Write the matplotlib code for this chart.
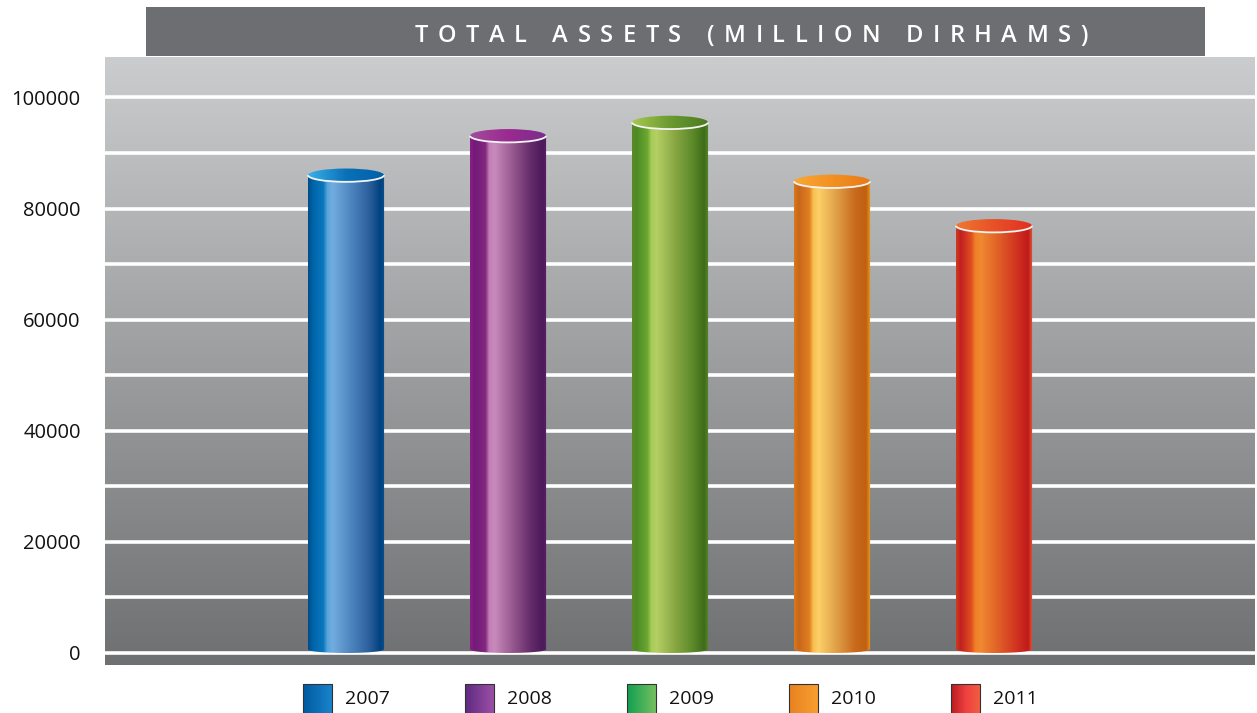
import numpy as np
import matplotlib
matplotlib.use('Agg')
import matplotlib.pyplot as plt
from matplotlib.colors import LinearSegmentedColormap
from matplotlib.patches import Rectangle, Ellipse, Arc, PathPatch
from matplotlib.path import Path

plt.rcParams['font.family'] = ['Open Sans', 'DejaVu Sans']

# Data
years = ['2007', '2008', '2009', '2010', '2011']
total_assets = [86000, 93100, 95500, 84900, 76900]
y_ticks = [0, 20000, 40000, 60000, 80000, 100000]
title = 'TOTAL ASSETS (MILLION DIRHAMS)'

# Cylinder shading, left to right (body, top face, legend swatch)
body_stops = {
    '2007': ['#004a8a', '#0064a8', '#0a78bf', '#5aa4dc', '#72acde', '#4f86c0', '#2b5f9c', '#00427f', '#0a5090'],
    '2008': ['#8a1f85', '#741a78', '#82287f', '#c27fb6', '#c88abc', '#97598f', '#632a6a', '#4c1a5a', '#5a2066'],
    '2009': ['#5a8a2a', '#4f8a24', '#6aa832', '#a8cc58', '#b4d064', '#8aa844', '#5a8828', '#3e6b1a', '#5a8a2a'],
    '2010': ['#d87a1a', '#c8661a', '#e08020', '#f8c050', '#fcd068', '#e0a048', '#c86a1c', '#c06010', '#f0a020'],
    '2011': ['#d03a20', '#c02020', '#e05020', '#f08028', '#f08a30', '#e06028', '#d03020', '#c01a1a', '#e06040'],
}
stop_pos = [0.0, 0.06, 0.2, 0.25, 0.32, 0.55, 0.8, 0.94, 1.0]
top_stops = {
    '2007': ['#3ab0e8', '#0a70b8', '#0060a8'],
    '2008': ['#a24c9c', '#9a2a90', '#7a2e8c'],
    '2009': ['#a8c850', '#6a9a30', '#4a7a20'],
    '2010': ['#f8a838', '#f39020', '#e87a1a'],
    '2011': ['#f07830', '#e85028', '#e03020'],
}
swatch_stops = {
    '2007': ['#005aa0', '#1a85cc'],
    '2008': ['#5e2a80', '#9e50a8'],
    '2009': ['#10a050', '#7ac060'],
    '2010': ['#e88220', '#f8a030'],
    '2011': ['#b81a20', '#f04040', '#f06040'],
}

W, H = 1257, 713
fig = plt.figure(figsize=(W / 100, H / 100), dpi=100)

ax = fig.add_axes([105 / W, 48 / H, 1150 / W, 608 / H])
lax = fig.add_axes([105 / W, 0, 1150 / W, 48 / H])

# background gradient
bg = LinearSegmentedColormap.from_list('bg', ['#6f7072', '#cbcccd'])
ax.imshow(np.linspace(1, 0, 256).reshape(-1, 1), cmap=bg, extent=[0, 1, 0, 1],
          transform=ax.transAxes, aspect='auto', zorder=0)

x = np.arange(len(years))
bar_w = 0.47
ell_h = 2400      # top face height (data units)
base_h = 1300     # bottom curvature
bars = ax.bar(x, total_assets, width=bar_w, color='none', zorder=3)
grad = np.linspace(0, 1, 256).reshape(1, -1)

for bar, yr in zip(bars, years):
    x0 = bar.get_x()
    w = bar.get_width()
    h = bar.get_height()
    xc = x0 + w / 2
    cmap_body = LinearSegmentedColormap.from_list(yr + 'b', list(zip(stop_pos, body_stops[yr])))
    cmap_top = LinearSegmentedColormap.from_list(yr + 't', top_stops[yr])

    # body outline: straight sides, rounded bottom sitting on the zero line
    t = np.linspace(0, -np.pi, 40)
    verts = [(x0, h), (x0 + w, h)] + \
            list(zip(xc + w / 2 * np.cos(t), base_h / 2 + base_h / 2 * np.sin(t))) + [(x0, h)]
    codes = [Path.MOVETO] + [Path.LINETO] * (len(verts) - 2) + [Path.CLOSEPOLY]
    outline = PathPatch(Path(verts, codes), transform=ax.transData)
    im = ax.imshow(grad, cmap=cmap_body, extent=[x0, x0 + w, 0, h],
                   aspect='auto', zorder=3)
    im.set_clip_path(outline)
    # top face
    top = Ellipse((xc, h), w, ell_h, transform=ax.transData)
    im3 = ax.imshow(grad, cmap=cmap_top, extent=[x0, x0 + w, h - ell_h / 2, h + ell_h / 2],
                    aspect='auto', zorder=4)
    im3.set_clip_path(top)
    ax.add_patch(Arc((xc, h), w, ell_h, theta1=180, theta2=360,
                     color='#f4f4f4', lw=1.3, zorder=5))

ax.set_yticks(y_ticks)
ax.set_yticks(np.arange(0, 100001, 10000), minor=True)
ax.grid(which='both', axis='y', color='white', lw=2.6)
ax.set_axisbelow(True)
ax.tick_params(axis='y', which='both', length=0, pad=17.5, labelsize=14.5, labelcolor='#111111')
ax.set_xticks([])
for s in ax.spines.values():
    s.set_visible(False)
ax.set_xlim(-1.4877, 5.611)
ax.set_ylim(-2160, 107270)

# legend row below the plot
sq_w = 29 / 162
for xi, yr in zip(x, years):
    sx = xi - bar_w / 2 - 5 / 162
    cm = LinearSegmentedColormap.from_list(yr + 's', swatch_stops[yr])
    lax.imshow(grad, cmap=cm, extent=[sx, sx + sq_w, -2, 29], aspect='auto', zorder=2)
    lax.add_patch(Rectangle((sx, -2), sq_w, 31, fc='none', ec='#333333', lw=0.8, zorder=3))
    lax.text(sx + sq_w + 13 / 162, 14, yr, fontsize=14, va='center', ha='left', color='#111111')
lax.set_xlim(-1.4877, 5.611)
lax.set_ylim(0, 48)
lax.axis('off')

# title banner
fig.patches.append(Rectangle((146 / W, (H - 56) / H), (1205 - 146) / W, 49 / H,
                             transform=fig.transFigure, fc='#6d6e71', ec='none', zorder=0))

# letter-spaced title, tracked to span the banner text width
renderer = fig.canvas.get_renderer()
title_kw = dict(fontsize=17, fontweight='semibold', color='white', va='baseline', ha='left')
adv = []
for ch in title:
    tt = fig.text(0, 0, ch if ch != ' ' else 'i', **title_kw)
    adv.append(tt.get_window_extent(renderer).width)
    tt.remove()
span_px = 1088 - 415
track = (span_px - sum(adv)) / (len(title) - 1)
xpos = 415
for ch, a in zip(title, adv):
    if ch != ' ':
        fig.text(xpos / W, (H - 42) / H, ch, **title_kw)
    xpos += a + track

fig.savefig('out.png', dpi=100)
